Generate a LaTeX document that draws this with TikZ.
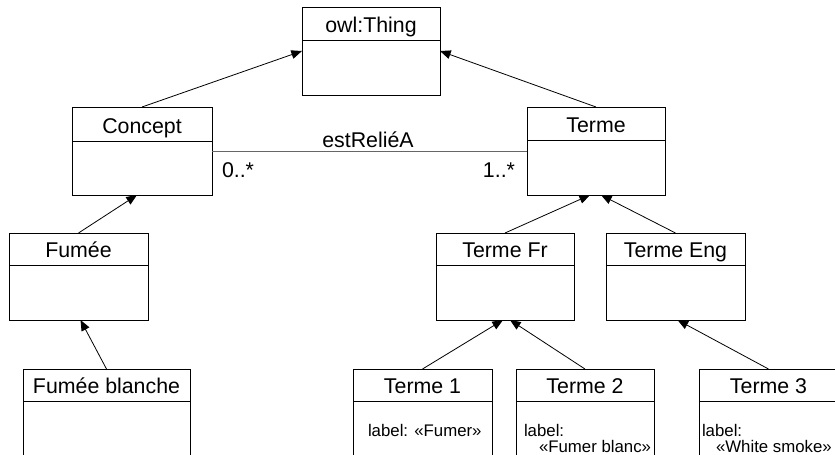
\documentclass[tikz,border=0pt]{standalone}
\usepackage{fontspec}
\setmainfont{Liberation Sans}
\usetikzlibrary{arrows.meta,calc}
\tikzset{
  classbox/.style={draw=black, line width=0.75pt, rectangle, inner sep=0pt, outer sep=0pt, fill=white},
  divline/.style={draw=black, line width=0.75pt},
  titletext/.style={inner sep=0pt, outer sep=0pt, font=\fontsize{16}{19}\selectfont, anchor=base},
  labeltext/.style={inner sep=0pt, outer sep=0pt, font=\fontsize{12.6}{15}\selectfont, anchor=base west},
  inh/.style={draw=black, line width=0.6pt, -{Triangle[length=8pt,width=6.5pt]}},
  assoc/.style={draw=black!60, line width=0.75pt}
}
\newcommand\umlclass[7]{%
  \node[classbox, minimum width=#4*0.75pt, minimum height=#5*0.75pt, anchor=north west] (#1) at (#2,#3) {};
  \draw[divline] (#2,#6) -- ({#2+#4},#6);
  \node[titletext] (#1-t) at ({#2+#4/2},{#6-8}) {#7};
}
\begin{document}
\begin{tikzpicture}[x=0.75pt,y=-0.75pt]
\useasboundingbox (0,0) rectangle (835,454);
\clip (0,0) rectangle (835,454);
\fill[white] (0,0) rectangle (835,454);

\umlclass{thing}{302}{7}{138}{88}{40}{owl:Thing}
\umlclass{concept}{72}{107}{140}{88}{141}{Concept}
\umlclass{terme}{527}{107}{138}{88}{140}{Terme}
\umlclass{fumee}{9}{233}{139}{87}{265}{Fumée}
\umlclass{termefr}{436}{233}{138}{87}{265}{Terme Fr}
\umlclass{termeeng}{606}{233}{139}{87}{265}{Terme Eng}
\umlclass{fblanche}{23}{369}{167}{100}{401}{Fumée blanche}
\umlclass{t1}{353}{369}{139}{100}{401}{Terme 1}
\umlclass{t2}{516}{369}{138}{100}{401}{Terme 2}
\umlclass{t3}{699}{369}{139}{100}{401}{Terme 3}

% association
\draw[assoc] (concept.east) -- (terme.west);
\node[titletext] (rel) at (368,147) {estReliéA};
\node[titletext, anchor=base west] (m0) at (222,177) {0..*};
\node[titletext, anchor=base east] (m1) at (515,177) {1..*};

% generalizations
\draw[inh] (concept.north) -- (thing.west);
\draw[inh] (terme.north) -- (thing.east);
\draw[inh] (fumee.north) -- ([xshift=-3.75pt]concept.south);
\draw[inh] (fblanche.north) -- ([xshift=1.5pt]fumee.south);
\draw[inh] (termefr.north) -- ([xshift=-4.5pt]terme.south);
\draw[inh] (termeeng.north) -- ([xshift=3.75pt]terme.south);
\draw[inh] (t1.north) -- ([xshift=-1.5pt]termefr.south);
\draw[inh] (t2.north) -- ([xshift=3.75pt]termefr.south);
\draw[inh] (t3.north) -- ([xshift=1.5pt]termeeng.south);

% attribute labels
\node[labeltext] (l1) at (368,436) {label: «Fumer»};
\node[labeltext] (l2a) at (524,436) {label:};
\node[labeltext] (l2b) at (539,452) {«Fumer blanc»};
\node[labeltext] (l3a) at (702,436) {label:};
\node[labeltext] (l3b) at (716,452) {«White smoke»};
\end{tikzpicture}
\end{document}
